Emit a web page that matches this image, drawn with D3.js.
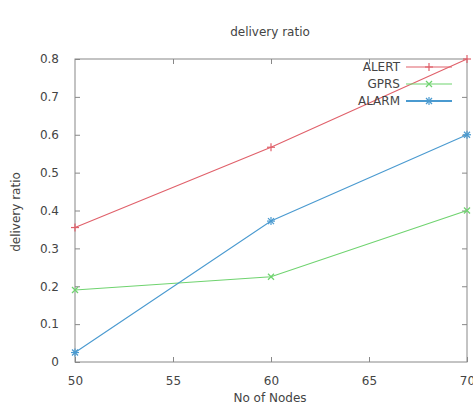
<!DOCTYPE html>
<html>
<head>
<meta charset="utf-8">
<script src="https://cdn.jsdelivr.net/npm/d3@7"></script>
<style>
  body { margin: 0; background: #fff; }
  text { font-family: "DejaVu Sans", sans-serif; fill: #444; }
</style>
</head>
<body>
<div id="chart"></div>
<script>
var nodes = [50, 60, 70]
var alertVals = [0.355, 0.567, 0.8]
var gprsVals = [0.19, 0.225, 0.40]
var alarmVals = [0.025, 0.372, 0.6]
var xTicks = [50, 55, 60, 65, 70]
var yTicks = [0, 0.1, 0.2, 0.3, 0.4, 0.5, 0.6, 0.7, 0.8]

var series = [
    {name: 'ALERT', values: alertVals, color: '#e0606a', marker: 'plus'},
    {name: 'GPRS', values: gprsVals, color: '#6fd36f', marker: 'cross'},
    {name: 'ALARM', values: alarmVals, color: '#4a9ad0', marker: 'star'}
]

var width = 473, height = 408
var margin = {top: 59, right: 6, bottom: 46, left: 75}

var svg = d3.select('#chart')
    .append('svg')
        .attr('width', width)
        .attr('height', height)

var x = d3.scaleLinear().domain([50, 70]).range([margin.left, width - margin.right])
var y = d3.scaleLinear().domain([0, 0.8]).range([height - margin.bottom, margin.top])

// frame
svg.append('rect')
    .attr('x', x(50)).attr('y', y(0.8))
    .attr('width', x(70) - x(50)).attr('height', y(0) - y(0.8))
    .attr('fill', 'none').attr('stroke', '#888').attr('stroke-width', 1)

// inward ticks on all four sides (gnuplot style)
var tl = 5
var xAxisB = d3.axisBottom(x).tickValues(xTicks).tickSize(-tl).tickPadding(14).tickFormat(d3.format('d'))
var xAxisT = d3.axisTop(x).tickValues(xTicks.slice(1, -1)).tickSize(-tl).tickFormat('')
var yAxisL = d3.axisLeft(y).tickValues(yTicks).tickSize(-tl).tickPadding(16).tickFormat(function(d) { return d === 0 ? '0' : d3.format('.1f')(d) })
var yAxisR = d3.axisRight(y).tickValues(yTicks.slice(1, -1)).tickSize(-tl).tickFormat('')

function styleAxis(g) {
    g.select('.domain').remove()
    g.selectAll('line').attr('stroke', '#888')
    g.selectAll('text').attr('font-size', 12).attr('fill', '#555')
}

svg.append('g').attr('transform', 'translate(0,' + y(0) + ')').call(xAxisB).call(styleAxis)
svg.append('g').attr('transform', 'translate(0,' + y(0.8) + ')').call(xAxisT).call(styleAxis)
svg.append('g').attr('transform', 'translate(' + x(50) + ',0)').call(yAxisL).call(styleAxis)
svg.append('g').attr('transform', 'translate(' + x(70) + ',0)').call(yAxisR).call(styleAxis)

// titles
svg.append('text')
    .attr('x', 270).attr('y', 36)
    .attr('text-anchor', 'middle').attr('font-size', 12)
    .text('delivery ratio')

svg.append('text')
    .attr('transform', 'translate(20,' + 212 + ') rotate(-90)')
    .attr('text-anchor', 'middle').attr('font-size', 12)
    .text('delivery ratio')

svg.append('text')
    .attr('x', 270).attr('y', 402)
    .attr('text-anchor', 'middle').attr('font-size', 12)
    .text('No of Nodes')

function drawMarker(g, cx, cy, type, color) {
    var s = 4
    var m = g.append('g').attr('transform', 'translate(' + cx + ',' + cy + ')')
        .attr('stroke', color).attr('stroke-width', 1.2)
    if (type === 'plus' || type === 'star') {
        m.append('line').attr('x1', -s).attr('x2', s).attr('y1', 0).attr('y2', 0)
        m.append('line').attr('x1', 0).attr('x2', 0).attr('y1', -s).attr('y2', s)
    }
    if (type === 'cross' || type === 'star') {
        m.append('line').attr('x1', -s * 0.75).attr('x2', s * 0.75).attr('y1', -s * 0.75).attr('y2', s * 0.75)
        m.append('line').attr('x1', -s * 0.75).attr('x2', s * 0.75).attr('y1', s * 0.75).attr('y2', -s * 0.75)
    }
}

var line = d3.line()
    .x(function(d, i) { return x(nodes[i]) })
    .y(function(d) { return y(d) })

series.forEach(function(s, k) {
    svg.append('path')
        .datum(s.values)
        .attr('d', line)
        .attr('fill', 'none')
        .attr('stroke', s.color)
        .attr('stroke-width', 1.1)
    s.values.forEach(function(v, i) {
        drawMarker(svg, x(nodes[i]), y(v), s.marker, s.color)
    })

    // legend
    var ly = 67 + k * 17
    svg.append('text')
        .attr('x', 400).attr('y', ly + 4)
        .attr('text-anchor', 'end').attr('font-size', 12)
        .text(s.name)
    svg.append('line')
        .attr('x1', 406).attr('x2', 452).attr('y1', ly).attr('y2', ly)
        .attr('stroke', s.color).attr('stroke-width', k === 2 ? 2 : 1.2)
    drawMarker(svg, 429, ly, s.marker, s.color)
})
</script>
</body>
</html>
